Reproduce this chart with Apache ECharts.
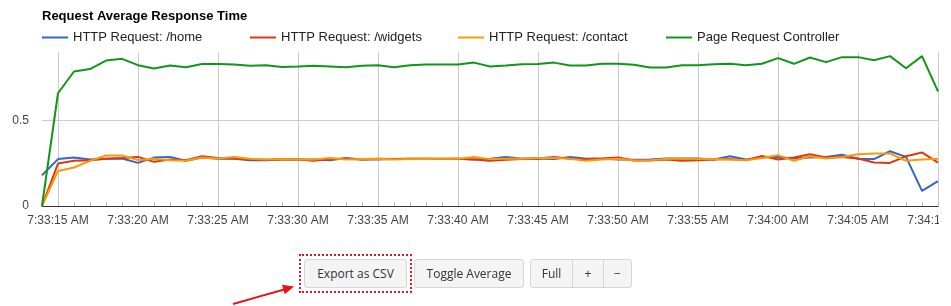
<!DOCTYPE html>
<html><head><meta charset="utf-8">
<script src="https://cdn.jsdelivr.net/npm/echarts@6/dist/echarts.min.js"></script>
<style>
html,body{margin:0;padding:0;background:#fff;width:951px;height:306px;overflow:hidden;position:relative;}
#chart{position:absolute;left:0;top:0;width:939px;height:306px;}
.btn{position:absolute;top:259px;height:29px;box-sizing:border-box;border:1px solid #d6d6d6;background:#f4f4f4;font:12px "Open Sans",sans-serif;color:#333;line-height:27px;text-align:center;border-radius:3px;}
.box{position:absolute;left:299px;top:254px;width:113px;height:39px;box-sizing:border-box;border:2px dotted #e8141b;}
svg.arrow{position:absolute;left:0;top:0;}
</style></head>
<body>
<div id="chart"></div>
<div class="btn" style="left:304px;width:103px">Export as CSV</div>
<div class="btn" style="left:414px;width:110px">Toggle Average</div>
<div class="btn" style="left:530px;width:43px;border-radius:3px 0 0 3px">Full</div>
<div class="btn" style="left:572px;width:32px;border-radius:0">+</div>
<div class="btn" style="left:603px;width:29px;border-radius:0 3px 3px 0">−</div>
<div class="box"></div>
<svg class="arrow" width="951" height="306">
  <line x1="233" y1="304" x2="286" y2="289" stroke="#e8141b" stroke-width="2"/>
  <polygon points="294,286.5 284.8,294.3 282,284.7" fill="#e8141b"/>
</svg>
<script>
const titleText = 'Request Average Response Time';
const seriesNames = ['HTTP Request: /home', 'HTTP Request: /widgets', 'HTTP Request: /contact', 'Page Request Controller'];
const seriesColors = ['#3366cc', '#dc3912', '#ff9900', '#109618'];
const categories = [
  '7:33:14 AM','7:33:15 AM','7:33:16 AM','7:33:17 AM','7:33:18 AM','7:33:19 AM','7:33:20 AM','7:33:21 AM','7:33:22 AM','7:33:23 AM',
  '7:33:24 AM','7:33:25 AM','7:33:26 AM','7:33:27 AM','7:33:28 AM','7:33:29 AM','7:33:30 AM','7:33:31 AM','7:33:32 AM','7:33:33 AM',
  '7:33:34 AM','7:33:35 AM','7:33:36 AM','7:33:37 AM','7:33:38 AM','7:33:39 AM','7:33:40 AM','7:33:41 AM','7:33:42 AM','7:33:43 AM',
  '7:33:44 AM','7:33:45 AM','7:33:46 AM','7:33:47 AM','7:33:48 AM','7:33:49 AM','7:33:50 AM','7:33:51 AM','7:33:52 AM','7:33:53 AM',
  '7:33:54 AM','7:33:55 AM','7:33:56 AM','7:33:57 AM','7:33:58 AM','7:33:59 AM','7:34:00 AM','7:34:01 AM','7:34:02 AM','7:34:03 AM',
  '7:34:04 AM','7:34:05 AM','7:34:06 AM','7:34:07 AM','7:34:08 AM','7:34:09 AM','7:34:10 AM'
];
const xTickLabels = ['7:33:15 AM','7:33:20 AM','7:33:25 AM','7:33:30 AM','7:33:35 AM','7:33:40 AM','7:33:45 AM','7:33:50 AM','7:33:55 AM','7:34:00 AM','7:34:05 AM','7:34:10 AM'];
const yTickValues = [0, 0.5];
const homeValues = [
  0.18,0.274,0.284,0.272,0.276,0.278,0.252,0.283,0.287,0.264,
  0.283,0.276,0.276,0.268,0.268,0.272,0.272,0.272,0.268,0.280,
  0.272,0.272,0.274,0.276,0.276,0.276,0.276,0.272,0.276,0.287,
  0.276,0.278,0.274,0.287,0.276,0.276,0.272,0.270,0.272,0.278,
  0.278,0.278,0.272,0.291,0.272,0.283,0.287,0.278,0.283,0.287,
  0.299,0.276,0.274,0.32,0.287,0.088,0.145
];
const widgetsValues = [
  0,0.248,0.264,0.268,0.276,0.281,0.287,0.258,0.272,0.268,
  0.291,0.281,0.278,0.272,0.270,0.272,0.272,0.264,0.274,0.276,
  0.272,0.276,0.274,0.276,0.276,0.274,0.276,0.272,0.264,0.270,
  0.274,0.278,0.287,0.276,0.274,0.278,0.283,0.266,0.266,0.272,
  0.264,0.268,0.272,0.274,0.268,0.293,0.272,0.283,0.303,0.283,
  0.287,0.278,0.254,0.252,0.291,0.313,0.254
];
const contactValues = [
  0,0.205,0.225,0.264,0.295,0.295,0.268,0.276,0.268,0.264,
  0.283,0.278,0.287,0.276,0.272,0.274,0.272,0.272,0.280,0.272,
  0.274,0.276,0.272,0.274,0.274,0.276,0.276,0.287,0.274,0.276,
  0.276,0.280,0.280,0.276,0.264,0.272,0.276,0.266,0.268,0.274,
  0.278,0.274,0.274,0.272,0.268,0.281,0.297,0.264,0.291,0.278,
  0.287,0.303,0.307,0.307,0.264,0.272,0.276
];
const controllerValues = [
  0,0.659,0.786,0.80,0.85,0.86,0.823,0.803,0.821,0.811,
  0.83,0.83,0.827,0.819,0.823,0.813,0.815,0.819,0.815,0.811,
  0.819,0.823,0.811,0.823,0.827,0.827,0.827,0.838,0.815,0.821,
  0.829,0.83,0.838,0.821,0.821,0.832,0.832,0.825,0.809,0.809,
  0.823,0.823,0.829,0.831,0.823,0.831,0.864,0.831,0.868,0.841,
  0.87,0.87,0.852,0.876,0.805,0.876,0.67
];
const allValues = [homeValues, widgetsValues, contactValues, controllerValues];

const isMajor = (i, v) => xTickLabels.includes(categories[i]);
const chart = echarts.init(document.getElementById('chart'), null, {renderer: 'canvas'});
chart.setOption({
  animation: false,
  title: {text: titleText, left: 42, top: 10, padding: 0,
    textStyle: {fontFamily: 'Arial, "Liberation Sans"', fontSize: 13, fontWeight: 'bold', color: '#000'}},
  legend: seriesNames.map((n, i) => ({
    data: [n], left: 42 + 208 * i, top: 31, padding: 0, icon: 'rect', itemWidth: 26, itemHeight: 2,
    selectedMode: false,
    textStyle: {fontFamily: 'Arial, "Liberation Sans"', fontSize: 13, color: '#222'}
  })),
  grid: {left: 42, right: 1, top: 52, bottom: 100, containLabel: false, outerBoundsMode: 'none'},
  xAxis: {
    type: 'category', data: categories, boundaryGap: false,
    axisLine: {lineStyle: {color: '#333', width: 1}},
    axisTick: {show: true, inside: true, length: 4, interval: 0, lineStyle: {color: '#bbb'}},
    axisLabel: {interval: isMajor, color: '#444', fontSize: 12, margin: 9, fontFamily: 'Arial, "Liberation Sans"'},
    splitLine: {show: true, interval: isMajor, lineStyle: {color: '#ccc', width: 1}}
  },
  yAxis: {
    type: 'value', min: yTickValues[0], max: 0.9, interval: yTickValues[1] - yTickValues[0],
    axisLine: {show: false}, axisTick: {show: false},
    axisLabel: {color: '#444', fontSize: 12, margin: 13, showMaxLabel: false, fontFamily: 'Arial, "Liberation Sans"'},
    splitLine: {show: true, showMaxLine: false, lineStyle: {color: '#ccc', width: 1}}
  },
  series: seriesNames.map((n, i) => ({
    name: n, type: 'line', data: allValues[i], symbol: 'none', showSymbol: false,
    color: seriesColors[i], lineStyle: {width: 2, color: seriesColors[i]}, silent: true
  }))
});
</script>
</body></html>
